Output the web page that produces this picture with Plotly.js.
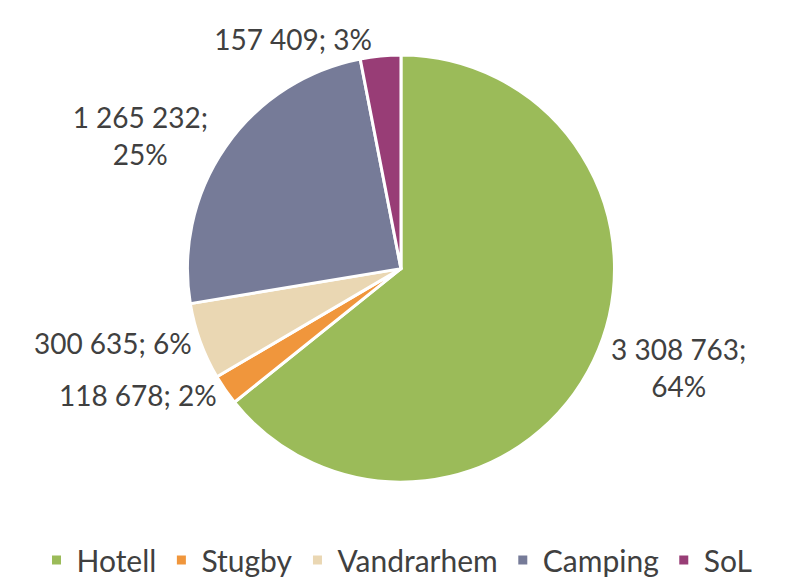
<!DOCTYPE html>
<html>
<head>
<meta charset="utf-8">
<script src="https://cdn.plot.ly/plotly-3.0.1.min.js"></script>
<style>html,body{margin:0;padding:0;background:#fff;}#chart{width:794px;height:586px;}</style>
</head>
<body>
<div id="chart"></div>
<script>
var categories = ["Hotell", "Stugby", "Vandrarhem", "Camping", "SoL"];
var values = [3308763, 118678, 300635, 1265232, 157409];
var colors = ["#9BBB59", "#F0963C", "#EAD7B3", "#767B98", "#983D76"];
var labelTemplates = [
  "%{value:,};<br>%{percent:.0%}",
  "%{value:,}; %{percent:.0%}",
  "%{value:,}; %{percent:.0%}",
  "%{value:,};<br>%{percent:.0%}",
  "%{value:,}; %{percent:.0%}"
];

var trace = {
  type: "pie",
  labels: categories,
  values: values,
  sort: false,
  direction: "clockwise",
  rotation: 0,
  marker: { colors: colors, line: { color: "#ffffff", width: 3 } },
  texttemplate: labelTemplates,
  textposition: "outside",
  textfont: { family: "Lato, 'Open Sans', sans-serif", size: 28, color: "#404040" },
  automargin: false,
  hoverinfo: "label+value+percent",
  domain: { x: [0.01, 1], y: [0.16, 0.904] },
  showlegend: true
};

var layout = {
  width: 794,
  height: 586,
  margin: { l: 0, r: 0, t: 0, b: 0 },
  paper_bgcolor: "#ffffff",
  separators: ", ",
  showlegend: true,
  legend: {
    orientation: "h",
    x: 0.5, xanchor: "center",
    y: 0.024, yanchor: "middle",
    font: { family: "Lato, 'Open Sans', sans-serif", size: 30, color: "#404040" },
    traceorder: "normal"
  }
};

Plotly.newPlot("chart", [trace], layout, { displayModeBar: false, staticPlot: true });
</script>
</body>
</html>
